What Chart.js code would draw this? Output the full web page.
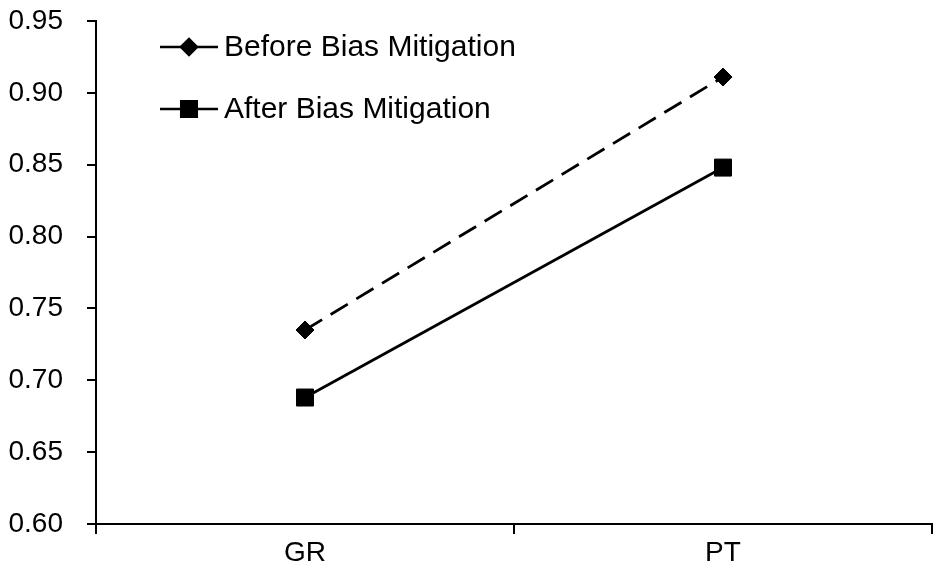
<!DOCTYPE html>
<html>
<head>
<meta charset="utf-8">
<script src="https://cdn.jsdelivr.net/npm/chart.js@4"></script>
<style>
  html, body { margin: 0; padding: 0; background: #fff; }
  #wrap { width: 939px; height: 568px; }
</style>
</head>
<body>
<div id="wrap"><canvas id="chart" width="939" height="568"></canvas></div>
<script>
const categories = ['GR', 'PT'];
const beforeValues = [0.735, 0.911];
const afterValues = [0.688, 0.848];
const seriesNames = ['Before Bias Mitigation', 'After Bias Mitigation'];

const FONT = '"Liberation Sans", Arial, sans-serif';

// Legend drawn inside the plot, line + marker like the original
const lineLegend = {
    id: 'lineLegend',
    afterDraw(chart) {
        const ctx = chart.ctx;
        const items = [
            { y: 47, style: 'rectRot', radius: 8 },
            { y: 109, style: 'rect', radius: 11 }
        ];
        ctx.save();
        items.forEach((it, i) => {
            ctx.strokeStyle = '#000';
            ctx.fillStyle = '#000';
            ctx.lineWidth = 2.5;
            ctx.beginPath();
            ctx.moveTo(160, it.y);
            ctx.lineTo(218, it.y);
            ctx.stroke();
            Chart.helpers.drawPoint(ctx, { pointStyle: it.style, radius: it.radius, borderWidth: 1 }, 189, it.y);
            ctx.font = '30px ' + FONT;
            ctx.textBaseline = 'middle';
            ctx.textAlign = 'left';
            ctx.fillText(seriesNames[i], 224, it.y + 1);
        });
        ctx.restore();
    }
};

new Chart(document.getElementById('chart'), {
    type: 'line',
    data: {
        labels: categories,
        datasets: [
            {
                label: seriesNames[0],
                data: beforeValues,
                borderColor: '#000',
                backgroundColor: '#000',
                borderWidth: 2.8,
                borderDash: [20, 10],
                pointStyle: 'rectRot',
                pointRadius: 9,
                pointBorderWidth: 1
            },
            {
                label: seriesNames[1],
                data: afterValues,
                borderColor: '#000',
                backgroundColor: '#000',
                borderWidth: 2.8,
                pointStyle: 'rect',
                pointRadius: 12,
                pointBorderWidth: 1
            }
        ]
    },
    options: {
        responsive: false,
        animation: false,
        layout: { autoPadding: false, padding: { top: 21, right: 7, left: 0, bottom: 0 } },
        plugins: {
            legend: { display: false },
            tooltip: { enabled: false }
        },
        scales: {
            x: {
                offset: true,
                grid: { offset: true, drawOnChartArea: false, color: '#000', lineWidth: 2, tickLength: 10 },
                border: { color: '#000', width: 2 },
                ticks: { color: '#000', font: { family: FONT, size: 28 }, padding: 2 },
                afterFit(scale) { scale.height = 44; }
            },
            y: {
                min: 0.6,
                max: 0.95,
                grid: { drawOnChartArea: false, color: '#000', lineWidth: 2, tickLength: 9 },
                border: { color: '#000', width: 2 },
                ticks: {
                    stepSize: 0.05,
                    color: '#000',
                    font: { family: FONT, size: 28 },
                    padding: 24,
                    callback: v => v.toFixed(2)
                },
                afterFit(scale) {
                    scale.width = 96;
                    scale.paddingTop = 0;
                    scale.paddingBottom = 0;
                }
            }
        }
    },
    plugins: [lineLegend]
});
</script>
</body>
</html>
